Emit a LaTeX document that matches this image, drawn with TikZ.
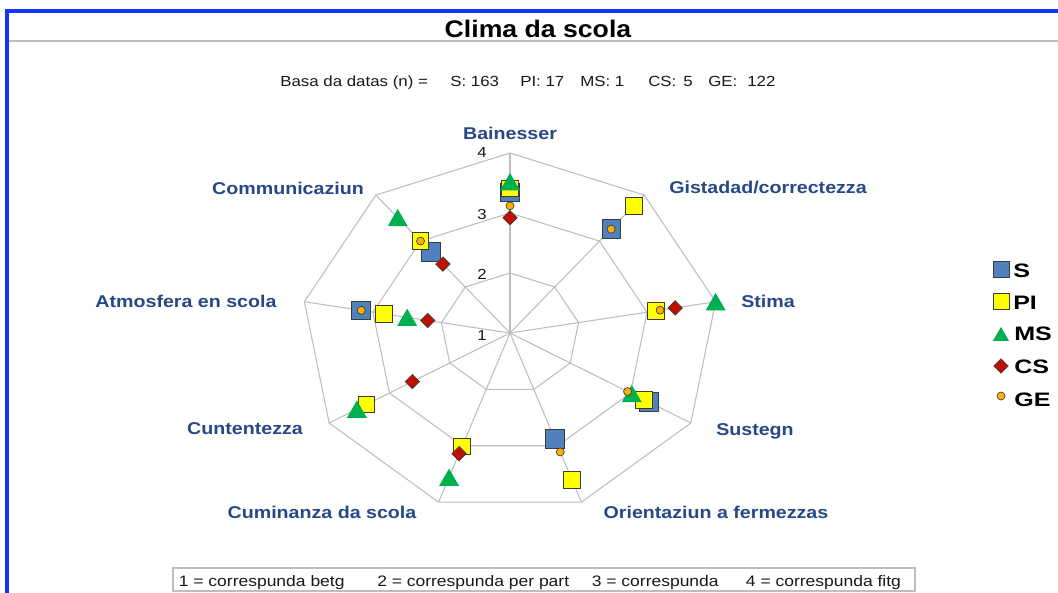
\documentclass[tikz,border=0pt]{standalone}
\usepackage{fontspec}
\setmainfont{Liberation Sans}[FakeStretch=1.15]
\usetikzlibrary{shapes.geometric}
\definecolor{frameblue}{RGB}{20,52,255}
\definecolor{gridgray}{RGB}{190,190,190}
\definecolor{labblue}{RGB}{38,72,135}
\definecolor{sblue}{RGB}{79,129,189}
\definecolor{piyellow}{RGB}{255,255,0}
\definecolor{msgreen}{RGB}{0,176,80}
\definecolor{csred}{RGB}{192,16,0}
\definecolor{georange}{RGB}{255,176,0}
\definecolor{mkborder}{RGB}{60,60,60}
\definecolor{txt}{RGB}{25,25,25}
\begin{document}
\begin{tikzpicture}[x=0.75pt,y=-0.75pt,
  declare function={px(\a,\l)=510+69.6*(\l-1)*cos(\a); py(\a,\l)=333-60*(\l-1)*sin(\a);},
  grid/.style={draw=gridgray,line width=0.8pt},
  mkS/.style={rectangle,draw=mkborder,fill=sblue,line width=0.7pt,minimum size=14pt,inner sep=0},
  mkPI/.style={rectangle,draw=mkborder,fill=piyellow,line width=0.6pt,minimum size=12.5pt,inner sep=0},
  mkMS/.style={regular polygon,regular polygon sides=3,fill=msgreen,minimum size=17.3pt,inner sep=0,yshift=-2.1pt},
  mkCS/.style={diamond,aspect=1,draw=mkborder,fill=csred,line width=0.5pt,minimum size=11pt,inner sep=0},
  mkGE/.style={circle,draw=mkborder,fill=georange,line width=0.5pt,minimum size=6pt,inner sep=0},
  axlab/.style={anchor=base,inner sep=0,text=labblue,font=\fontsize{12.8}{14}\selectfont\bfseries},
  tick/.style={anchor=base,inner sep=0,text=txt,font=\fontsize{10.9}{12}\selectfont},
  sub/.style={anchor=base west,inner sep=0,text=txt,font=\fontsize{11}{12}\selectfont},
  legtxt/.style={anchor=base west,inner sep=0,text=black,font=\fontsize{14.6}{16}\selectfont\bfseries},
  bot/.style={anchor=base west,inner sep=0,text=txt,font=\fontsize{11.4}{13}\selectfont}
]
\useasboundingbox (0,0) rectangle (1058,593);
\fill[white] (0,0) rectangle (1058,593);
% frame
\draw[frameblue,line width=2.8pt] (7,595) -- (7,11) -- (1060,11);
\draw[gridgray,line width=1.1pt] (8.5,41) -- (1058,41);
% title
\node[anchor=base,inner sep=0,font=\fontsize{18}{20}\selectfont\bfseries] (title) at (538,37) {\scalebox{0.965}[1]{Clima da scola}};
% subtitle
\node[sub] (n0) at (280,86) {Basa da datas (n) =};
\node[sub] (n1) at (450,86) {S: 163};
\node[sub] (n2) at (520,86) {PI: 17};
\node[sub] (n3) at (580,86) {MS: 1};
\node[sub] (n4) at (648,86) {CS:};
\node[sub] (n5) at (683,86) {5};
\node[sub] (n6) at (708,86) {GE:};
\node[sub] (n7) at (747,86) {122};
% grid
\foreach \lv in {2,3,4}
  \draw[grid] ({px(90,\lv)},{py(90,\lv)}) \foreach \a in {50,10,-30,-70,-110,-150,170,130} {-- ({px(\a,\lv)},{py(\a,\lv)})} -- cycle;
\coordinate (ctr) at (510,333);
\foreach \a in {90,50,10,-30,-70,-110,-150,170,130}
  \draw[grid] (ctr) -- ({px(\a,4)},{py(\a,4)});
% ticks
\node[tick] (t4) at (482,157) {4};
\node[tick] (t3) at (482,219) {3};
\node[tick] (t2) at (482,279) {2};
\node[tick] (t1) at (482,340) {1};
% axis labels
\node[axlab] (a1) at (510,139) {Bainesser};
\node[axlab] (a2) at (768,193) {Gistadad/correctezza};
\node[axlab] (a3) at (768,307) {Stima};
\node[axlab] (a4) at (755,435) {Sustegn};
\node[axlab] (a5) at (716,518) {Orientaziun a fermezzas};
\node[axlab] (a6) at (322,518) {Cuminanza da scola};
\node[axlab] (a7) at (245,434) {Cuntentezza};
\node[axlab] (a8) at (186,307) {Atmosfera en scola};
\node[axlab] (a9) at (288,194) {Communicaziun};
% data
\foreach \a/\l [count=\i] in {90/3.34,50/3.27,-30/3.30,-70/2.88,170/3.17,130/2.77}
  \node[mkS] (S\i) at ({px(\a,\l)},{py(\a,\l)}) {};
\foreach \a/\l [count=\i] in {90/3.41,50/3.77,10/3.13,-30/3.22,-70/3.61,-110/3.01,-150/3.38,170/2.84,130/3.0}
  \node[mkPI] (PI\i) at ({px(\a,\l)},{py(\a,\l)}) {};
\foreach \a/\l [count=\i] in {90/3.52,10/4.0,-30/3.02,-110/3.56,-150/3.54,170/2.5,130/3.51}
  \node[mkMS] (MS\i) at ({px(\a,\l)},{py(\a,\l)}) {};
\foreach \a/\l [count=\i] in {90/2.92,10/3.41,-110/3.14,-150/2.62,170/2.2,130/2.5}
  \node[mkCS] (CS\i) at ({px(\a,\l)},{py(\a,\l)}) {};
\foreach \a/\l [count=\i] in {90/3.12,50/3.26,10/3.19,-30/2.95,-70/3.11,170/3.17,130/3.0}
  \node[mkGE] (GE\i) at ({px(\a,\l)},{py(\a,\l)}) {};
% legend
\node[mkS,minimum size=12pt] (lS) at (1001,269.5) {};
\node[mkPI,minimum size=12pt] (lPI) at (1001,301.5) {};
\node[mkMS,minimum size=14pt,yshift=0.4pt] (lMS) at (1001,334) {};
\node[mkCS] (lCS) at (1001,366) {};
\node[mkGE] (lGE) at (1001,396) {};
\node[legtxt] (tS) at (1013,277) {\scalebox{1.12}[1]{S}};
\node[legtxt] (tPI) at (1013,309) {\scalebox{1.12}[1]{PI}};
\node[legtxt] (tMS) at (1014,340) {\scalebox{1.12}[1]{MS}};
\node[legtxt] (tCS) at (1014,373) {\scalebox{1.12}[1]{CS}};
\node[legtxt] (tGE) at (1014,406) {\scalebox{1.12}[1]{GE}};
% bottom key
\draw[gridgray,line width=0.9pt] (173,568) rectangle (915,591);
\node[bot] (k1) at (178.6,586) {1 = correspunda betg};
\node[bot] (k2) at (377,586) {2 = correspunda per part};
\node[bot] (k3) at (591.6,586) {3 = correspunda};
\node[bot] (k4) at (745.7,586) {4 = correspunda fitg};
\end{tikzpicture}
\end{document}
